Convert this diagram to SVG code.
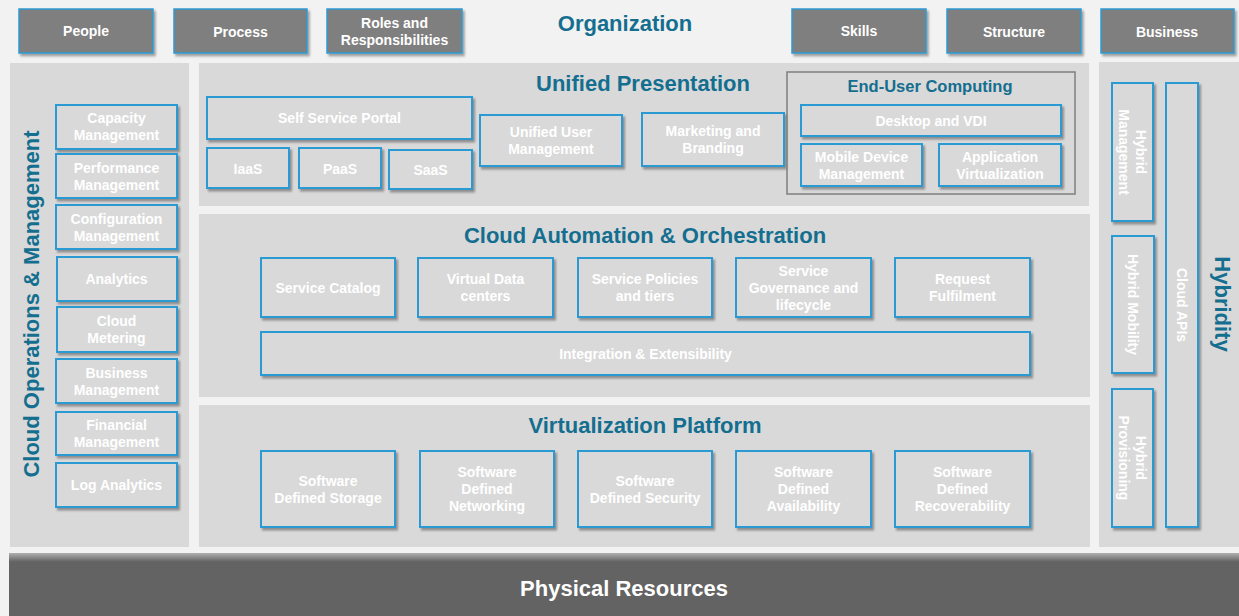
<svg xmlns="http://www.w3.org/2000/svg" width="1239" height="616" viewBox="0 0 1239 616">
<defs>
<filter id="sh" x="-10%" y="-10%" width="130%" height="140%">
<feDropShadow dx="2" dy="2.5" stdDeviation="1.2" flood-color="#000" flood-opacity="0.35"/>
</filter>
<linearGradient id="phys" x1="0" y1="0" x2="0" y2="1">
<stop offset="0" stop-color="#b0b0b0"/>
<stop offset="0.14" stop-color="#636363"/>
<stop offset="1" stop-color="#636363"/>
</linearGradient>
<style>
.panel{fill:#d9d9d9}
.box{fill:#d9d9d9;stroke:#2b9ad3;stroke-width:2;filter:url(#sh)}
.top{fill:#7f7f7f;stroke:#2b9ad3;stroke-width:1.5;filter:url(#sh)}
.euc{fill:none;stroke:#7f7f7f;stroke-width:1.5}
text{font-family:"Liberation Sans",Arial,sans-serif;font-weight:bold;text-anchor:middle;dominant-baseline:central}
.lbl{font-size:14px;fill:#ffffff}
.title{font-size:22px;fill:#146e8f}
.sub{font-size:16.5px;fill:#146e8f}
.phys{font-size:22px;fill:#ffffff}
</style>
</defs>
<rect x="0" y="0" width="1239" height="616" fill="#f2f2f2"/>

<!-- Panels -->
<rect class="panel" x="10" y="63" width="179" height="484"/>
<rect class="panel" x="199" y="63" width="890" height="143"/>
<rect class="panel" x="199" y="214" width="891" height="183"/>
<rect class="panel" x="199" y="405" width="891" height="142"/>
<rect class="panel" x="1099" y="62" width="140" height="485"/>

<!-- Organization -->
<g id="organization">
<text class="title" x="625" y="23">Organization</text>
</g>
<g id="people"><rect class="top" x="19" y="9" width="134" height="44"/><text class="lbl" x="86" y="31">People</text></g>
<g id="process"><rect class="top" x="174" y="9" width="133" height="44"/><text class="lbl" x="240.5" y="32">Process</text></g>
<g id="roles"><rect class="top" x="327" y="9" width="135" height="44"/><text class="lbl" x="394.5" y="23">Roles and<tspan x="394.5" dy="17">Responsibilities</tspan></text></g>
<g id="skills"><rect class="top" x="792" y="9" width="134" height="44"/><text class="lbl" x="859" y="31">Skills</text></g>
<g id="structure"><rect class="top" x="947" y="9" width="134" height="44"/><text class="lbl" x="1014" y="32">Structure</text></g>
<g id="business"><rect class="top" x="1101" y="9" width="133" height="44"/><text class="lbl" x="1167" y="32">Business</text></g>

<!-- Cloud Operations & Management -->
<g id="cloud-ops">
<text class="title" transform="translate(31,304) rotate(-90)" x="0" y="0">Cloud Operations &amp; Management</text>
</g>
<g id="capacity"><rect class="box" x="56" y="105" width="121" height="44"/><text class="lbl" x="116.5" y="118">Capacity<tspan x="116.5" dy="17">Management</tspan></text></g>
<g id="performance"><rect class="box" x="56" y="154" width="121" height="44"/><text class="lbl" x="116.5" y="167.5">Performance<tspan x="116.5" dy="17">Management</tspan></text></g>
<g id="configuration"><rect class="box" x="56" y="205" width="121" height="44"/><text class="lbl" x="116.5" y="218.5">Configuration<tspan x="116.5" dy="17">Management</tspan></text></g>
<g id="analytics"><rect class="box" x="57" y="257" width="120" height="44"/><text class="lbl" x="116.5" y="279">Analytics</text></g>
<g id="metering"><rect class="box" x="57" y="307" width="120" height="45"/><text class="lbl" x="116.5" y="321">Cloud<tspan x="116.5" dy="17">Metering</tspan></text></g>
<g id="business-mgmt"><rect class="box" x="56" y="359" width="121" height="44"/><text class="lbl" x="116.5" y="372.5">Business<tspan x="116.5" dy="17">Management</tspan></text></g>
<g id="financial"><rect class="box" x="56" y="412" width="121" height="43"/><text class="lbl" x="116.5" y="425">Financial<tspan x="116.5" dy="17">Management</tspan></text></g>
<g id="log-analytics"><rect class="box" x="56" y="463" width="121" height="44"/><text class="lbl" x="116.5" y="485">Log Analytics</text></g>

<!-- Unified Presentation -->
<g id="unified-presentation"><text class="title" x="643" y="83">Unified Presentation</text></g>
<g id="self-service"><rect class="box" x="207" y="97" width="265" height="42"/><text class="lbl" x="339.5" y="118">Self Service Portal</text></g>
<g id="iaas"><rect class="box" x="207" y="148" width="82" height="40"/><text class="lbl" x="248" y="168.5">IaaS</text></g>
<g id="paas"><rect class="box" x="299" y="148" width="82" height="40"/><text class="lbl" x="340" y="168.5">PaaS</text></g>
<g id="saas"><rect class="box" x="389" y="150" width="83" height="39"/><text class="lbl" x="430.5" y="169.5">SaaS</text></g>
<g id="unified-user"><rect class="box" x="480" y="115" width="142" height="51"/><text class="lbl" x="551" y="132">Unified User<tspan x="551" dy="17">Management</tspan></text></g>
<g id="marketing"><rect class="box" x="642" y="113" width="142" height="53"/><text class="lbl" x="713" y="131">Marketing and<tspan x="713" dy="17">Branding</tspan></text></g>

<!-- End-User Computing -->
<g id="euc"><rect class="euc" x="787" y="72" width="288" height="122"/><text class="sub" x="930" y="86">End-User Computing</text></g>
<g id="desktop"><rect class="box" x="801" y="105" width="260" height="31"/><text class="lbl" x="931" y="120.5">Desktop and VDI</text></g>
<g id="mdm"><rect class="box" x="801" y="144" width="121" height="42"/><text class="lbl" x="861.5" y="156.5">Mobile Device<tspan x="861.5" dy="17">Management</tspan></text></g>
<g id="appvirt"><rect class="box" x="939" y="144" width="122" height="42"/><text class="lbl" x="1000" y="156.5">Application<tspan x="1000" dy="17">Virtualization</tspan></text></g>

<!-- Cloud Automation & Orchestration -->
<g id="automation"><text class="title" x="645" y="235">Cloud Automation &amp; Orchestration</text></g>
<g id="catalog"><rect class="box" x="261" y="258" width="134" height="59"/><text class="lbl" x="328" y="287.5">Service Catalog</text></g>
<g id="vdc"><rect class="box" x="418" y="258" width="135" height="59"/><text class="lbl" x="485.5" y="279">Virtual Data<tspan x="485.5" dy="17">centers</tspan></text></g>
<g id="policies"><rect class="box" x="578" y="258" width="134" height="59"/><text class="lbl" x="645" y="279">Service Policies<tspan x="645" dy="17">and tiers</tspan></text></g>
<g id="governance"><rect class="box" x="736" y="258" width="135" height="59"/><text class="lbl" x="803.5" y="270.5">Service<tspan x="803.5" dy="17">Governance and</tspan><tspan x="803.5" dy="17">lifecycle</tspan></text></g>
<g id="request"><rect class="box" x="895" y="258" width="135" height="59"/><text class="lbl" x="962.5" y="279">Request<tspan x="962.5" dy="17">Fulfilment</tspan></text></g>
<g id="integration"><rect class="box" x="261" y="332" width="769" height="43"/><text class="lbl" x="645.5" y="353.5">Integration &amp; Extensibility</text></g>

<!-- Virtualization Platform -->
<g id="virtualization"><text class="title" x="645" y="425">Virtualization Platform</text></g>
<g id="sds"><rect class="box" x="261" y="451" width="134" height="76"/><text class="lbl" x="328" y="480.5">Software<tspan x="328" dy="17">Defined Storage</tspan></text></g>
<g id="sdn"><rect class="box" x="420" y="451" width="134" height="76"/><text class="lbl" x="487" y="472">Software<tspan x="487" dy="17">Defined</tspan><tspan x="487" dy="17">Networking</tspan></text></g>
<g id="sdsec"><rect class="box" x="578" y="451" width="134" height="76"/><text class="lbl" x="645" y="480.5">Software<tspan x="645" dy="17">Defined Security</tspan></text></g>
<g id="sda"><rect class="box" x="736" y="451" width="135" height="76"/><text class="lbl" x="803.5" y="472">Software<tspan x="803.5" dy="17">Defined</tspan><tspan x="803.5" dy="17">Availability</tspan></text></g>
<g id="sdr"><rect class="box" x="895" y="451" width="135" height="76"/><text class="lbl" x="962.5" y="472">Software<tspan x="962.5" dy="17">Defined</tspan><tspan x="962.5" dy="17">Recoverability</tspan></text></g>

<!-- Hybridity -->
<g id="hybridity"><text class="title" transform="translate(1222,304) rotate(90)" x="0" y="0">Hybridity</text></g>
<g id="hybrid-mgmt"><rect class="box" x="1112" y="83" width="41" height="138"/><text class="lbl" transform="translate(1132.5,152) rotate(90)" x="0" y="-8.5">Hybrid<tspan x="0" dy="17">Management</tspan></text></g>
<g id="hybrid-mobility"><rect class="box" x="1112" y="236" width="42" height="137"/><text class="lbl" transform="translate(1133,304.5) rotate(90)" x="0" y="0">Hybrid Mobility</text></g>
<g id="hybrid-prov"><rect class="box" x="1112" y="389" width="41" height="138"/><text class="lbl" transform="translate(1132.5,458) rotate(90)" x="0" y="-8.5">Hybrid<tspan x="0" dy="17">Provisioning</tspan></text></g>
<g id="cloud-apis"><rect class="box" x="1166" y="83" width="32" height="444"/><text class="lbl" transform="translate(1182,305) rotate(90)" x="0" y="0">Cloud APIs</text></g>

<!-- Physical Resources -->
<g id="physical"><rect x="9" y="553" width="1230" height="63" fill="url(#phys)"/><text class="phys" x="624" y="588">Physical Resources</text></g>

<g id="connectors"/>
</svg>
